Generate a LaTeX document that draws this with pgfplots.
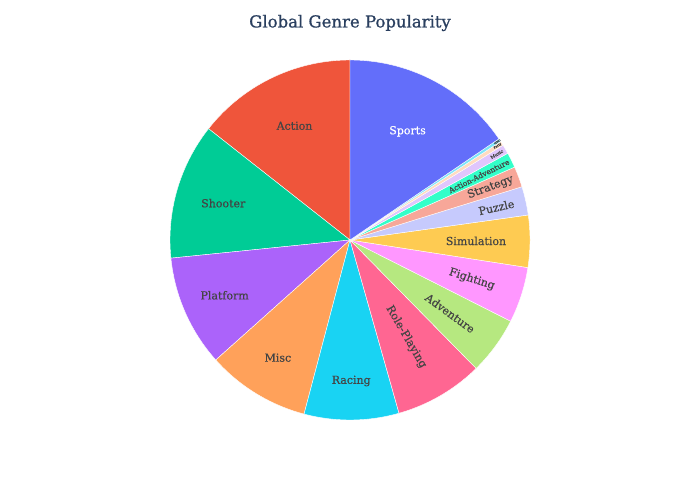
\documentclass[border=0pt]{standalone}
\usepackage{pgfplots}
\pgfplotsset{compat=1.18}
\usepackage{fontspec}
\setmainfont{DejaVu Serif}
\newfontfamily\labfont[FakeBold=0.5]{DejaVu Serif}
\newfontfamily\titlefont[FakeBold=0.9]{DejaVu Serif}

\definecolor{cSports}{HTML}{636EFA}
\definecolor{cAction}{HTML}{EF553B}
\definecolor{cShooter}{HTML}{00CC96}
\definecolor{cPlatform}{HTML}{AB63FA}
\definecolor{cMisc}{HTML}{FFA15A}
\definecolor{cRacing}{HTML}{19D3F3}
\definecolor{cRole}{HTML}{FF6692}
\definecolor{cAdventure}{HTML}{B6E880}
\definecolor{cFighting}{HTML}{FF97FF}
\definecolor{cSimulation}{HTML}{FECB52}
\definecolor{cPuzzle}{HTML}{C6CAFD}
\definecolor{cStrategy}{HTML}{F7A799}
\definecolor{cActAdv}{HTML}{33FFC9}
\definecolor{cMusic}{HTML}{E0C6FD}
\definecolor{cParty}{HTML}{FFDBC0}
\definecolor{cMMO}{HTML}{7AE6F8}
\definecolor{dk}{HTML}{444444}
\definecolor{titlecol}{HTML}{2A3F5F}

\begin{document}
\begin{tikzpicture}
\path[use as bounding box] (0,0) rectangle (700pt,500pt);
\begin{axis}[
  at={(0pt,0pt)}, anchor=south west,
  x=1pt, y=1pt,
  xmin=0, xmax=700, ymin=0, ymax=500,
  hide axis, clip=false,
]
\def\cx{350}\def\cy{260}\def\R{180}
\xdef\acc{0}
% share of global sales (%), counterclockwise from 12 o'clock
% label / value / fill / text colour / label radius / radial text? / font size
\foreach \lab/\val/\col/\tcol/\lr/\mode/\fs in {
  Action/14.39/cAction/dk/127/0/11,
  Shooter/12.22/cShooter/dk/132/0/11,
  Platform/10.00/cPlatform/dk/137/0/11,
  Misc/9.28/cMisc/dk/138/0/11,
  Racing/8.50/cRacing/dk/141/0/11,
  Role-Playing/7.97/cRole/dk/112/1/11,
  Adventure/5.19/cAdventure/dk/124/1/11,
  Fighting/5.00/cFighting/dk/128/1/11,
  Simulation/4.67/cSimulation/dk/126/0/11,
  Puzzle/2.56/cPuzzle/dk/150/1/11,
  Strategy/1.86/cStrategy/dk/150/1/11,
  Action-Adventure/1.36/cActAdv/dk/144/1/7.5,
  Music/0.83/cMusic/dk/170/1/4.5,
  Party/0.39/cParty/dk/175/1/3.2,
  MMO/0.28/cMMO/dk/177/1/2.5,
  Sports/15.50/cSports/white/123/0/11%
} {
  \pgfmathsetmacro\a{90+3.6*\acc}
  \pgfmathsetmacro\b{\a+3.6*\val}
  \pgfmathsetmacro\m{(\a+\b)/2}
  \pgfmathsetmacro\lx{\cx+\lr*cos(\m)}
  \pgfmathsetmacro\ly{\cy+\lr*sin(\m)}
  \pgfmathsetmacro\rot{\mode*\m}
  \edef\doit{%
    \noexpand\addplot[fill=\col, draw=white, line width=0.4pt,
      domain=\a:\b, samples=90]
      ({\cx+\R*cos(x)},{\cy+\R*sin(x)}) -- (axis cs:\cx,\cy) -- cycle;
    \noexpand\node[rotate=\rot, text=\tcol, inner sep=0pt,
      font=\noexpand\labfont\noexpand\fontsize{\fs}{\fs}\noexpand\selectfont]
      at (axis cs:\lx,\ly) {\lab};
  }
  \doit
  \pgfmathsetmacro\newacc{\acc+\val}
  \xdef\acc{\newacc}
}

\node[font=\titlefont\fontsize{16.5}{18}\selectfont, text=titlecol]
  at (axis cs:350,477) {Global Genre Popularity};
\end{axis}
\end{tikzpicture}
\end{document}
